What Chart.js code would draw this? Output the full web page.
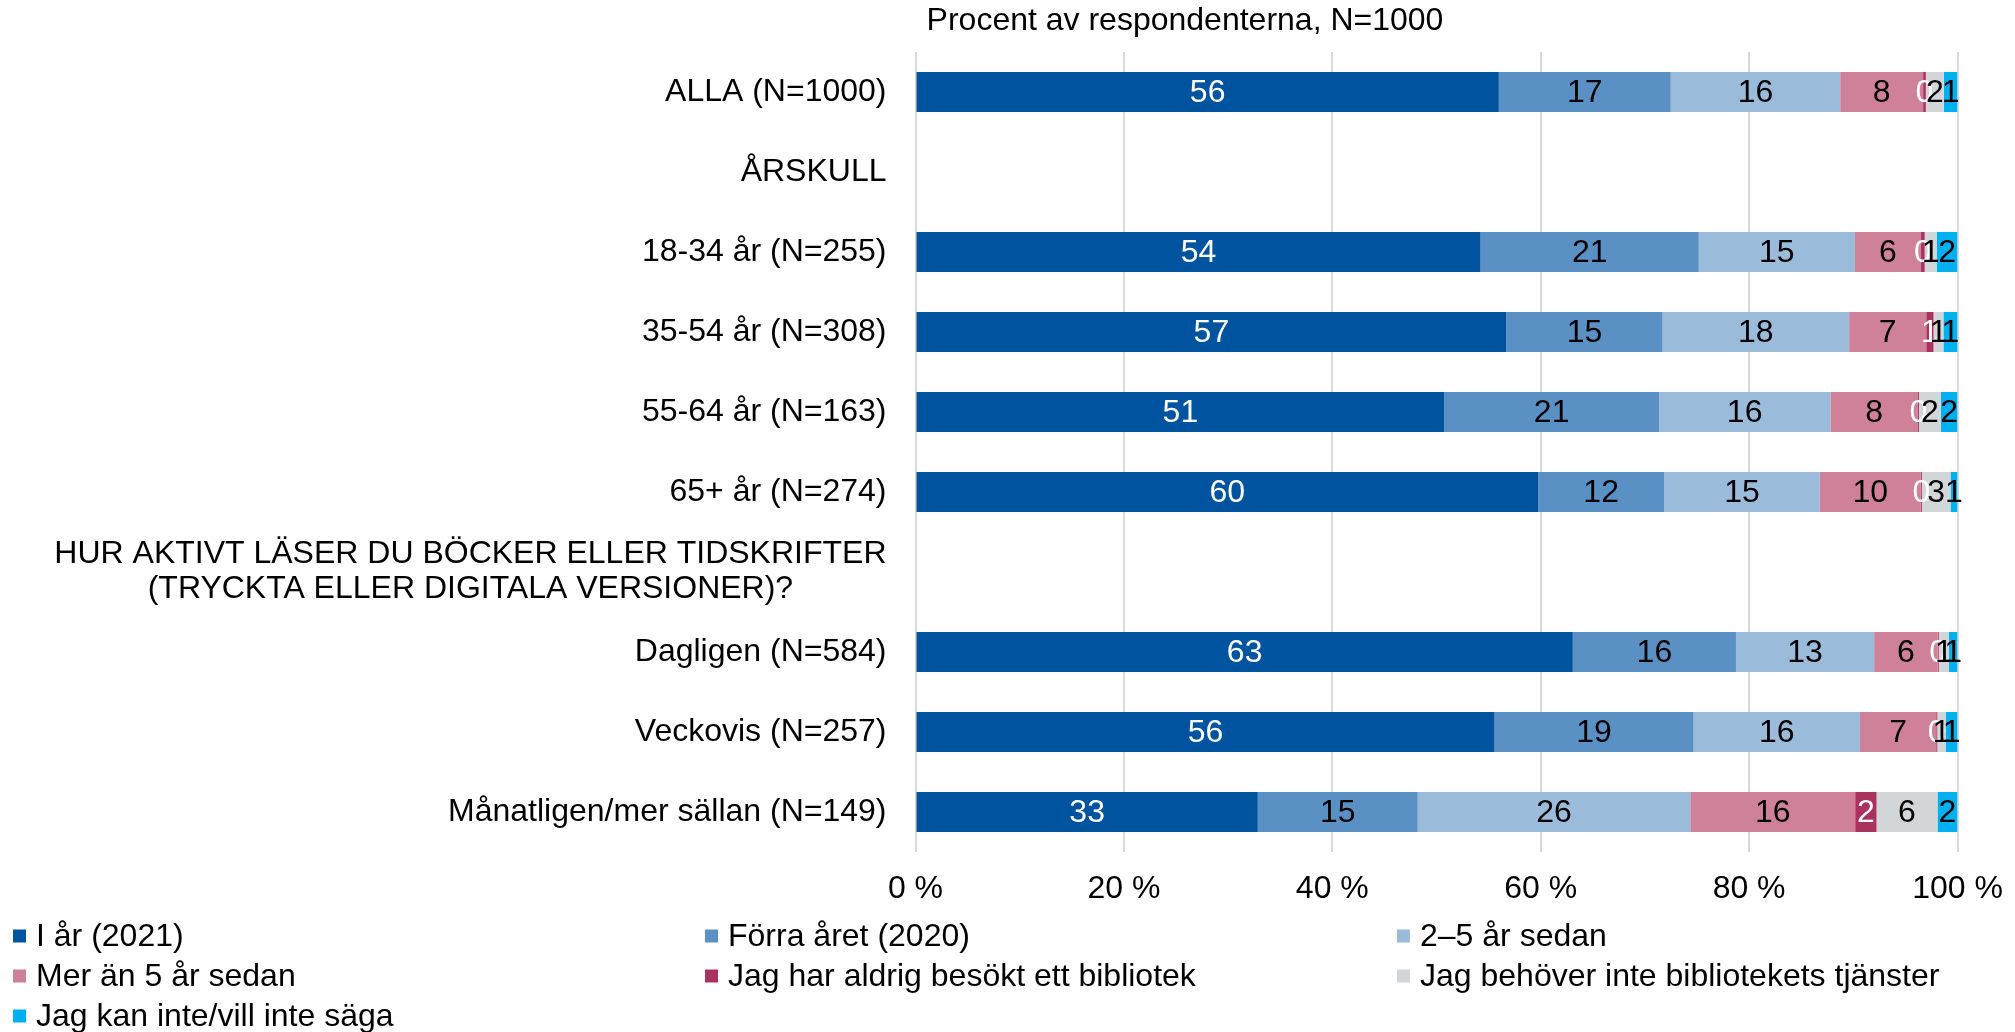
<!DOCTYPE html>
<html><head><meta charset="utf-8">
<script src="https://cdn.jsdelivr.net/npm/chart.js@4.4.1/dist/chart.umd.min.js"></script>
<style>html,body{margin:0;padding:0;background:#fff}#wrap{width:2015px;height:1032px;position:relative}</style>
</head><body><div id="wrap"><canvas id="c"></canvas></div>
<script>
const categories = [
  "ALLA (N=1000)",
  "ÅRSKULL",
  "18-34 år (N=255)",
  "35-54 år (N=308)",
  "55-64 år (N=163)",
  "65+ år (N=274)",
  ["HUR AKTIVT LÄSER DU BÖCKER ELLER TIDSKRIFTER", "(TRYCKTA ELLER DIGITALA VERSIONER)?"],
  "Dagligen (N=584)",
  "Veckovis (N=257)",
  "Månatligen/mer sällan (N=149)"
];
const seriesNames = ["I år (2021)", "Förra året (2020)", "2–5 år sedan", "Mer än 5 år sedan",
  "Jag har aldrig besökt ett bibliotek", "Jag behöver inte bibliotekets tjänster", "Jag kan inte/vill inte säga"];
const iAr2021     = [55.98, null, 54.23, 56.7, 50.75, 59.75, null, 63.08, 55.57, 32.85];
const forraAret   = [16.5,  null, 20.94, 15.0, 20.6,  12.1,  null, 15.66, 19.1,  15.35];
const tvaFemAr    = [16.26, null, 14.99, 17.9, 16.45, 14.93, null, 13.26, 15.97, 26.15];
const merAnFemAr  = [7.96,  null, 6.34,  7.4,  8.4,   9.7,   null, 6.1,   7.32,  15.83];
const aldrigBesokt= [0.26,  null, 0.35,  0.7,  0.1,   0.1,   null, 0.1,   0.1,   2.05];
const behoverInte = [1.73,  null, 1.15,  0.95, 2.1,   2.75,  null, 0.97,  0.8,   5.85];
const vetEj       = [1.3,   null, 2.0,   1.35, 1.6,   0.67,  null, 0.83,  1.14,  1.92];
const xTicks = [0, 20, 40, 60, 80, 100];
const titleText = "Procent av respondenterna, N=1000";

const colors = ["#00549F", "#5B90C5", "#9BBBDA", "#CE8199", "#A9335E", "#D3D6D9", "#00B0F0"];
const labelColors = ["#fff", "#000", "#000", "#000", "#fff", "#000", "#000"];
const seriesData = [iAr2021, forraAret, tvaFemAr, merAnFemAr, aldrigBesokt, behoverInte, vetEj];
const FONT = "'Liberation Sans', Arial, sans-serif";

Chart.defaults.font.family = FONT;
Chart.defaults.font.size = 32;
Chart.defaults.color = "#000";

const datasets = seriesNames.map((n, i) => ({
  label: n, data: seriesData[i], backgroundColor: colors[i], borderWidth: 0,
  barPercentage: 0.5, categoryPercentage: 1.0
}));

const customDraw = {
  id: 'customDraw',
  afterDatasetsDraw(chart) {
    const ctx = chart.ctx;
    ctx.save();
    ctx.font = "32px " + FONT;
    ctx.textAlign = 'center';
    ctx.textBaseline = 'middle';
    chart.data.datasets.forEach((ds, di) => {
      const meta = chart.getDatasetMeta(di);
      meta.data.forEach((el, i) => {
        const v = ds.data[i];
        if (v === null || v === undefined) return;
        const p = el.getProps(['x', 'y', 'base'], true);
        ctx.fillStyle = labelColors[di];
        ctx.fillText(String(Math.round(v)), (p.x + p.base) / 2, p.y + 1);
      });
    });
    ctx.restore();
  },
  afterDraw(chart) {
    const ctx = chart.ctx;
    const ys = chart.scales.y;
    ctx.save();
    ctx.font = "32px " + FONT;
    ctx.fillStyle = "#000";
    ctx.textBaseline = 'middle';
    const right = chart.chartArea.left - 29;
    chart.data.labels.forEach((lab, i) => {
      const y = ys.getPixelForValue(i);
      if (Array.isArray(lab)) {
        const w = Math.max(...lab.map(l => ctx.measureText(l).width));
        const cx = right - w / 2;
        const lh = 35;
        ctx.textAlign = 'center';
        lab.forEach((l, k) => ctx.fillText(l, cx, y + (k - (lab.length - 1) / 2) * lh));
      } else {
        ctx.textAlign = 'right';
        ctx.fillText(lab, right, y);
      }
    });
    // title
    ctx.textAlign = 'center';
    ctx.fillText(titleText, 1185, 21);
    // legend grid
    const x0 = 13, colW = 692, y0 = 936, rowH = 40, box = 13;
    ctx.textAlign = 'left';
    chart.data.datasets.forEach((ds, i) => {
      const col = i % 3, row = Math.floor(i / 3);
      const x = x0 + col * colW, y = y0 + row * rowH;
      ctx.fillStyle = ds.backgroundColor;
      ctx.fillRect(x, y - box / 2, box, box);
      ctx.fillStyle = "#000";
      ctx.fillText(ds.label, x + 23, y + 1);
    });
    ctx.restore();
  }
};

new Chart(document.getElementById('c'), {
  type: 'bar',
  data: { labels: categories, datasets },
  options: {
    indexAxis: 'y',
    responsive: true,
    maintainAspectRatio: false,
    animation: false,
    layout: { padding: { top: 52, right: 57.5, left: 0, bottom: 0 } },
    plugins: { legend: { display: false }, tooltip: { enabled: false }, title: { display: false } },
    scales: {
      x: {
        stacked: true, min: 0, max: 100,
        afterBuildTicks: s => { s.ticks = xTicks.map(v => ({ value: v })); },
        afterFit: s => { s.height = 180; s.paddingRight = 0; s.paddingLeft = 0; },
        ticks: { callback: v => v + " %", padding: 18, maxRotation: 0, autoSkip: false, font: { size: 32 } },
        grid: { color: "#d9d9d9", lineWidth: 2, drawTicks: false },
        border: { display: false }
      },
      y: {
        stacked: true,
        afterFit: s => { s.width = 915.5; s.paddingTop = 0; s.paddingBottom = 0; },
        ticks: { display: false },
        grid: { display: false },
        border: { display: false }
      }
    }
  },
  plugins: [customDraw]
});
</script>
</body></html>
